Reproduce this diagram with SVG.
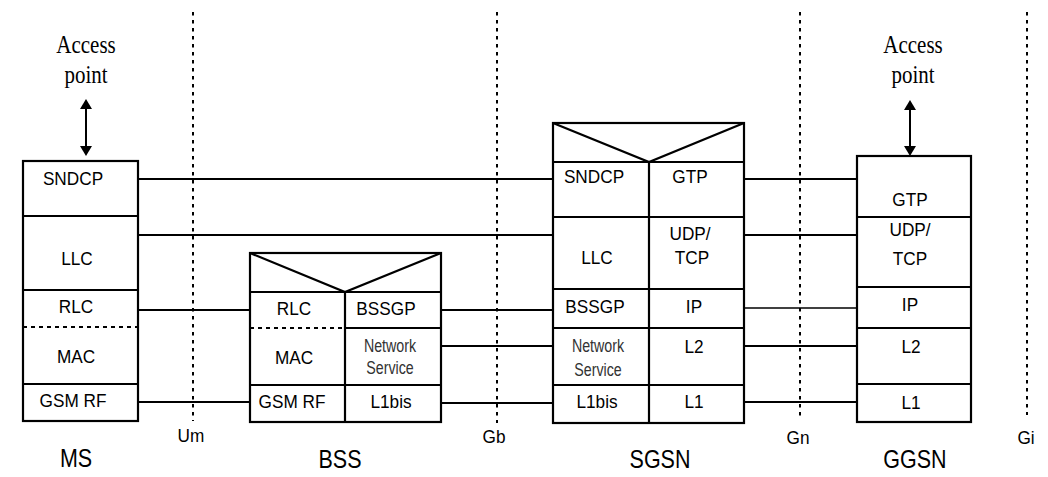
<svg xmlns="http://www.w3.org/2000/svg" width="1048" height="477" viewBox="0 0 1048 477">
<style>
.box{fill:none;stroke:#000;stroke-width:2.2}
.div{stroke:#000;stroke-width:2.2;fill:none}
.dsh{stroke:#000;stroke-width:2;stroke-dasharray:4 4;fill:none}
.con{stroke:#000;stroke-width:2;fill:none}
.thin{stroke:#000;stroke-width:1.3;fill:none}
.dot{stroke:#000;stroke-width:2;stroke-dasharray:3.5 4.5;fill:none}
text{font-family:"Liberation Sans",Arial,sans-serif;text-anchor:middle;fill:#000}
.t{font-size:18.5px}
.ns{font-size:18.5px;fill:#333}
.big{font-size:25px}
.sf{font-family:"Liberation Serif","Times New Roman",serif;font-size:25px}
</style>
<g id="interfaces">
<line class="dot" x1="193" y1="12" x2="193" y2="421"/>
<line class="dot" x1="497" y1="12" x2="497" y2="423"/>
<line class="dot" x1="800" y1="12" x2="800" y2="420"/>
<line class="dot" x1="1027" y1="12" x2="1027" y2="415"/>
<text class="t" transform="translate(191,442) scale(0.93,1)">Um</text>
<text class="t" transform="translate(494,443) scale(0.93,1)">Gb</text>
<text class="t" transform="translate(798,444) scale(0.93,1)">Gn</text>
<text class="t" transform="translate(1026,444) scale(0.93,1)">Gi</text>
</g>
<g id="connectors">
<line class="con" x1="138" y1="179" x2="553" y2="179"/>
<line class="con" x1="138" y1="235" x2="553" y2="235"/>
<line class="con" x1="138" y1="310" x2="250" y2="310"/>
<line class="con" x1="138" y1="402" x2="250" y2="402"/>
<line class="con" x1="441" y1="310" x2="553" y2="310"/>
<line class="con" x1="441" y1="346" x2="553" y2="346"/>
<line class="con" x1="441" y1="403" x2="553" y2="403"/>
<line class="con" x1="744" y1="179" x2="857" y2="179"/>
<line class="con" x1="744" y1="235" x2="857" y2="235"/>
<line class="thin" x1="744" y1="308" x2="857" y2="308"/>
<line class="con" x1="744" y1="346" x2="857" y2="346"/>
<line class="con" x1="744" y1="402" x2="857" y2="402"/>
<line class="con" x1="86" y1="107" x2="86" y2="147"/>
<polygon points="86,99 80,109 92,109"/>
<polygon points="86,156 80,146 92,146"/>
<line class="con" x1="910" y1="108" x2="910" y2="147"/>
<polygon points="910,100 904,110 916,110"/>
<polygon points="910,156 904,146 916,146"/>
</g>
<g id="ap-ms">
<text class="sf" transform="translate(86,53) scale(0.84,1)">Access</text>
<text class="sf" transform="translate(86,83) scale(0.84,1)">point</text>
</g>
<g id="ap-ggsn">
<text class="sf" transform="translate(913,53) scale(0.84,1)">Access</text>
<text class="sf" transform="translate(913,83) scale(0.84,1)">point</text>
</g>
<g id="MS">
<rect class="box" x="23" y="161" width="115" height="260"/>
<line class="div" x1="23" y1="216" x2="138" y2="216"/>
<line class="div" x1="23" y1="290" x2="138" y2="290"/>
<line class="dsh" x1="23" y1="327" x2="138" y2="327"/>
<line class="div" x1="23" y1="384" x2="138" y2="384"/>
<text class="t" transform="translate(73,185) scale(0.93,1)">SNDCP</text>
<text class="t" transform="translate(77,265) scale(0.93,1)">LLC</text>
<text class="t" transform="translate(76,313) scale(0.93,1)">RLC</text>
<text class="t" transform="translate(76,363) scale(0.93,1)">MAC</text>
<text class="t" transform="translate(73,407) scale(0.93,1)">GSM RF</text>
<text class="big" transform="translate(76,467) scale(0.86,1)">MS</text>
</g>
<g id="BSS">
<rect class="box" x="250" y="253" width="191" height="169"/>
<polyline class="div" points="250,253 345,292 441,253"/>
<line class="div" x1="250" y1="292" x2="441" y2="292"/>
<line class="div" x1="345" y1="292" x2="345" y2="422"/>
<line class="dsh" x1="250" y1="328" x2="345" y2="328"/>
<line class="div" x1="345" y1="328" x2="441" y2="328"/>
<line class="div" x1="250" y1="385" x2="441" y2="385"/>
<text class="t" transform="translate(294,315) scale(0.93,1)">RLC</text>
<text class="t" transform="translate(386,315) scale(0.93,1)">BSSGP</text>
<text class="t" transform="translate(294,364) scale(0.93,1)">MAC</text>
<text class="ns" transform="translate(390,352) scale(0.77,1)">Network</text>
<text class="ns" transform="translate(390,374) scale(0.77,1)">Service</text>
<text class="t" transform="translate(292,408) scale(0.93,1)">GSM RF</text>
<text class="t" transform="translate(391,408) scale(0.93,1)">L1bis</text>
<text class="big" transform="translate(340,468) scale(0.86,1)">BSS</text>
</g>
<g id="SGSN">
<rect class="box" x="553" y="123" width="191" height="300"/>
<polyline class="div" points="553,123 649,162 744,123"/>
<line class="div" x1="553" y1="162" x2="744" y2="162"/>
<line class="div" x1="649" y1="162" x2="649" y2="423"/>
<line class="div" x1="553" y1="217" x2="744" y2="217"/>
<line class="div" x1="553" y1="289" x2="744" y2="289"/>
<line class="div" x1="553" y1="328" x2="744" y2="328"/>
<line class="div" x1="553" y1="385" x2="744" y2="385"/>
<text class="t" transform="translate(594,183) scale(0.93,1)">SNDCP</text>
<text class="t" transform="translate(690,183) scale(0.93,1)">GTP</text>
<text class="t" transform="translate(597,264) scale(0.93,1)">LLC</text>
<text class="t" transform="translate(690,240) scale(0.93,1)">UDP/</text>
<text class="t" transform="translate(692,264) scale(0.93,1)">TCP</text>
<text class="t" transform="translate(595,313) scale(0.93,1)">BSSGP</text>
<text class="t" transform="translate(694,313) scale(0.93,1)">IP</text>
<text class="ns" transform="translate(598,352) scale(0.77,1)">Network</text>
<text class="ns" transform="translate(598,376) scale(0.77,1)">Service</text>
<text class="t" transform="translate(694,353) scale(0.93,1)">L2</text>
<text class="t" transform="translate(597,408) scale(0.93,1)">L1bis</text>
<text class="t" transform="translate(694,408) scale(0.93,1)">L1</text>
<text class="big" transform="translate(660,468) scale(0.86,1)">SGSN</text>
</g>
<g id="GGSN">
<rect class="box" x="857" y="156" width="114" height="266"/>
<line class="div" x1="857" y1="217" x2="971" y2="217"/>
<line class="div" x1="857" y1="287" x2="971" y2="287"/>
<line class="div" x1="857" y1="328" x2="971" y2="328"/>
<line class="div" x1="857" y1="384" x2="971" y2="384"/>
<text class="t" transform="translate(910,206) scale(0.93,1)">GTP</text>
<text class="t" transform="translate(910,236) scale(0.93,1)">UDP/</text>
<text class="t" transform="translate(910,265) scale(0.93,1)">TCP</text>
<text class="t" transform="translate(910,311) scale(0.93,1)">IP</text>
<text class="t" transform="translate(911,353) scale(0.93,1)">L2</text>
<text class="t" transform="translate(911,409) scale(0.93,1)">L1</text>
<text class="big" transform="translate(915,468) scale(0.86,1)">GGSN</text>
</g>
</svg>
